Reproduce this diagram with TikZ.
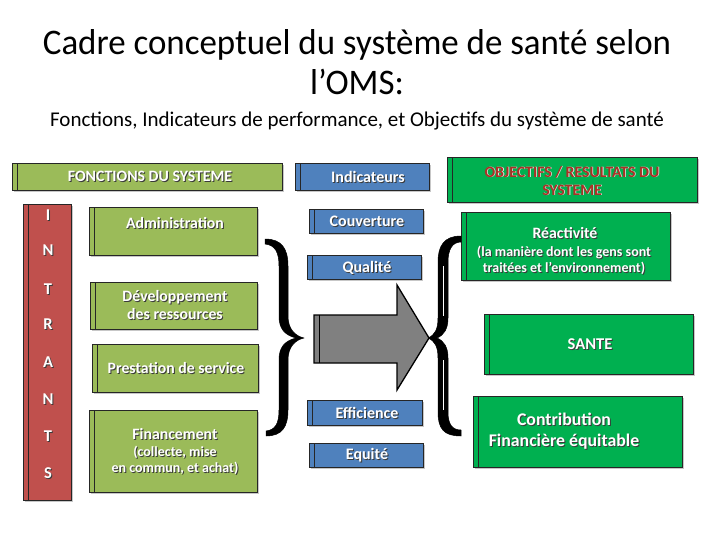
\documentclass[tikz,border=0pt]{standalone}
\usepackage{fontspec}
\setmainfont{Carlito}
\usetikzlibrary{shadows}
\definecolor{olivec}{HTML}{9BBB59}
\definecolor{redc}{HTML}{C0504D}
\definecolor{bluec}{HTML}{4F81BD}
\definecolor{greenc}{HTML}{00B050}
\definecolor{grayc}{HTML}{808080}
\definecolor{objred}{HTML}{A93226}
\definecolor{shadowc}{HTML}{3A3A3A}
\newcommand\shd[1]{\rlap{\kern1pt\raisebox{-1pt}{\textcolor{shadowc}{#1}}}#1}
\newcommand\shw[1]{\rlap{\kern0.8pt\raisebox{-0.8pt}{\textcolor{white!80!gray}{#1}}}#1}
\tikzset{
  boxbase/.style={rectangle, draw=black!85, line width=0.9pt, inner sep=0pt, anchor=north west,
    general shadow={fill=black!22, shadow xshift=1.5pt, shadow yshift=-1.5pt},
    path picture={\draw[line width=0.8pt, black!85] ([xshift=5pt]path picture bounding box.north west) -- ([xshift=5pt]path picture bounding box.south west);}},
  obox/.style={boxbase, fill=olivec},
  rbox/.style={boxbase, fill=redc},
  bbox/.style={boxbase, fill=bluec},
  gbox/.style={boxbase, fill=greenc},
  lbl/.style={text=white, font=\bfseries\fontsize{15.8}{18}\selectfont, align=center, inner sep=0pt},
  sublbl/.style={text=white, font=\bfseries\fontsize{14}{16}\selectfont, align=center, inner sep=0pt},
  bracefill/.style={fill=black, draw=black, line width=0.5pt, line join=round},
}
\begin{document}
\begin{tikzpicture}[x=1pt,y=-1pt]
\useasboundingbox (0,0) rectangle (720,540);
% titles
\node[font=\fontsize{36}{40}\selectfont, inner sep=0pt, xscale=0.97] (t1) at (357,45) {Cadre conceptuel du système de santé selon};
\node[font=\fontsize{36}{40}\selectfont, inner sep=0pt, xscale=0.97] (t2) at (357,82) {l’OMS:};
\node[font=\fontsize{21}{24}\selectfont, inner sep=0pt] (t3) at (357,121) {Fonctions, Indicateurs de performance, et Objectifs du système de santé};
% boxes
\node[obox, minimum width=270pt, minimum height=27pt] (fonc) at (12,163) {};
\node[rbox, minimum width=48pt, minimum height=296pt] (intr) at (23,204) {};
\node[obox, minimum width=168pt, minimum height=48pt] (adm) at (89,207) {};
\node[obox, minimum width=167pt, minimum height=47pt] (dev) at (90,282) {};
\node[obox, minimum width=166pt, minimum height=48pt] (pre) at (92,344) {};
\node[obox, minimum width=168pt, minimum height=82pt] (fin) at (89,410) {};
\node[bbox, minimum width=134pt, minimum height=27pt] (ind) at (295,163) {};
\node[bbox, minimum width=114pt, minimum height=24pt] (cou) at (309,209) {};
\node[bbox, minimum width=114pt, minimum height=24pt] (qua) at (307,255) {};
\node[bbox, minimum width=115pt, minimum height=25pt] (eff) at (307,400) {};
\node[bbox, minimum width=114pt, minimum height=24pt] (equ) at (309,443) {};
\node[gbox, minimum width=250pt, minimum height=45pt] (obj) at (447,157) {};
\node[gbox, minimum width=209pt, minimum height=68pt] (rea) at (461,212) {};
\node[gbox, minimum width=209pt, minimum height=60pt] (san) at (484,314) {};
\node[gbox, minimum width=209pt, minimum height=71pt] (con) at (473,396) {};
% texts
\node[lbl] (tfonc) at (150,177) {\shd{FONCTIONS DU SYSTEME}};
\node[lbl] (tadm) at (175,224) {\shd{Administration}};
\node[lbl] (tdev) at (175,306) {\shd{Développement}\\\shd{des ressources}};
\node[lbl] (tpre) at (176,369) {\shd{Prestation de service}};
\node[lbl] (tfin) at (175,435) {\shd{Financement}};
\node[sublbl] (tfin2) at (175,461) {\shd{(collecte, mise}\\\shd{en commun, et achat)}};
\node[lbl, font=\bfseries\fontsize{16}{18}\selectfont] (tind) at (368,177) {\shd{Indicateurs}};
\node[lbl, font=\bfseries\fontsize{16}{18}\selectfont] (tcou) at (367,222) {\shd{Couverture}};
\node[lbl, font=\bfseries\fontsize{16}{18}\selectfont] (tqua) at (367,268) {\shd{Qualité}};
\node[lbl, font=\bfseries\fontsize{16}{18}\selectfont] (teff) at (367,413) {\shd{Efficience}};
\node[lbl, font=\bfseries\fontsize{16}{18}\selectfont] (tequ) at (367,456) {\shd{Equité}};
\node[lbl, text=objred] (tobj) at (572,181) {\shw{OBJECTIFS / RESULTATS DU}\\\shw{SYSTEME}};
\node[lbl] (trea) at (565,234) {\shd{Réactivité}};
\node[sublbl] (trea2) at (564,261) {\shd{(la manière dont les gens sont}\\\shd{traitées et l’environnement)}};
\node[lbl, font=\bfseries\fontsize{16.5}{18}\selectfont] (tsan) at (590,345) {\shd{SANTE}};
\node[lbl, font=\bfseries\fontsize{17.8}{21}\selectfont] (tcon) at (564,432) {\shd{Contribution}\\\shd{Financière équitable}};
% vertical letters
\foreach \l/\yy [count=\i] in {I/216,N/251,T/290,R/325,A/363,N/400,T/437,S/474}
  \node[lbl, font=\bfseries\fontsize{16.5}{18}\selectfont] (let\i) at (48,\yy) {\shd{\l}};
% arrow
\draw[fill=grayc, draw=black, line width=1.3pt, line join=miter] (314,315) -- (397,315) -- (397,285) -- (429,338) -- (397,390) -- (397,363) -- (314,363) -- cycle;
\draw[line width=0.8pt] (319,315) -- (319,363);
% left brace }
\path[bracefill] (265,239) .. controls (282,239) and (288,249) .. (288,266) -- (288,316) .. controls (288,329) and (295,336) .. (304,338) .. controls (295,340) and (288,347) .. (288,360) -- (288,410) .. controls (288,427) and (282,436) .. (266,436) -- (266,431) .. controls (275,430) and (279,424) .. (279,410) -- (279,360) .. controls (279,348) and (284,341) .. (296,338) .. controls (284,335) and (279,328) .. (279,316) -- (279,266) .. controls (279,252) and (275,245) .. (265,244) -- cycle;
% right brace {
\path[bracefill] (461,236) .. controls (444,236) and (438,246) .. (438,262) -- (438,318) .. controls (438,329) and (435,335) .. (428,338) .. controls (435,341) and (438,347) .. (438,358) -- (438,412) .. controls (438,429) and (444,436) .. (461,436) -- (461,430) .. controls (452,430) and (448,424) .. (448,412) -- (448,358) .. controls (448,347) and (444,341) .. (437,338) .. controls (444,335) and (448,329) .. (448,318) -- (448,262) .. controls (448,250) and (452,242) .. (461,242) -- cycle;
\draw[white, line width=0.8pt] (443,266) -- (443,316) (443,360) -- (443,410);
\end{tikzpicture}
\end{document}
